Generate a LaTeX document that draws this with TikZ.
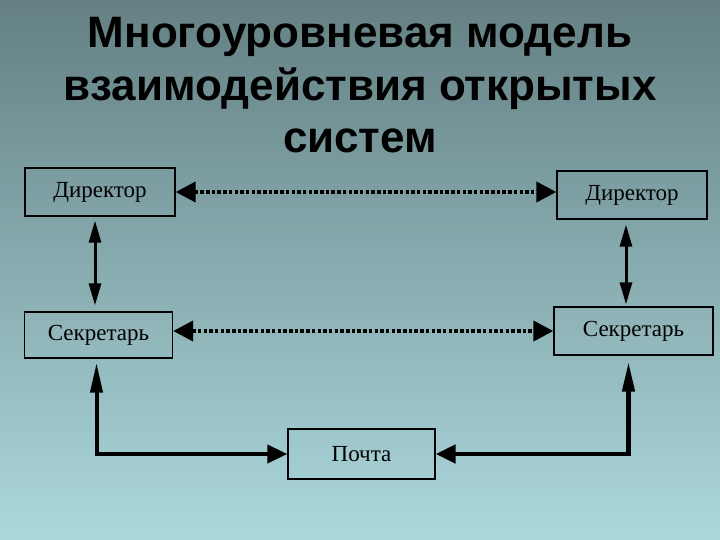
\documentclass[tikz,border=0pt]{standalone}
\usepackage{fontspec}
\setmainfont{Liberation Serif}
\newfontfamily\titlefont{Liberation Sans}
\usepackage{xcolor}
\usetikzlibrary{arrows.meta}

\definecolor{bgtop}{RGB}{100,128,131}
\definecolor{bgbottom}{RGB}{172,216,221}

\begin{document}
\begin{tikzpicture}[x=1pt,y=-1pt,
        unit/.style={draw=black, line width=1.3pt, inner sep=0pt, font=\fontsize{23}{25}\selectfont},
        dotlink/.style={line width=4pt, dash pattern=on 3.5pt off 2.2pt,
            {Triangle[length=20pt,width=20pt]}-{Triangle[length=20pt,width=20pt]}},
        solidlink/.style={line width=3pt,
            {Triangle[length=22pt,width=12pt]}-{Triangle[length=22pt,width=12pt]}},
        postlink/.style={line width=4pt,
            {Triangle[length=30pt,width=12pt]}-{Triangle[length=20pt,width=18pt]}}]
        \shade[top color=bgtop, bottom color=bgbottom] (0,0) rectangle (720,540);
        \useasboundingbox (0,0) rectangle (720,540);
        % title
        \node[font=\titlefont\bfseries\fontsize{44}{52.5}\selectfont, align=center, anchor=north]
            (title) at (360,14) {Многоуровневая модель\\взаимодействия открытых\\систем};
        % boxes
        \node[unit, minimum width=150pt, minimum height=48pt] (dirL) at (100,192) {Директор};
        \node[unit, minimum width=150pt, minimum height=48pt] (dirR) at (632,195) {Директор};
        \node[unit, minimum width=148pt, minimum height=46pt] (secL) at (98.5,335) {Секретарь};
        \node[unit, minimum width=159pt, minimum height=48pt] (secR) at (633.5,331) {Секретарь};
        \node[unit, minimum width=147pt, minimum height=50pt] (post) at (361.5,454) {Почта};
        % links
        \draw[dotlink] (dirL.east) -- (dirL.east -| dirR.west);
        \draw[dotlink] (secR.west -| secL.east) -- (secR.west);
        \draw[solidlink, shorten <=4pt, shorten >=6pt] ([xshift=-5pt]dirL.south) -- ([xshift=-5pt]dirL.south |- secL.north);
        \draw[solidlink, shorten <=5pt, shorten >=2pt] ([xshift=-6pt]dirR.south) -- ([xshift=-6pt]dirR.south |- secR.north);
        \draw[postlink, shorten <=4pt] ([xshift=-2pt]secL.south) |- (post.west);
        \draw[postlink, line width=4.5pt, shorten <=6pt] ([xshift=-5pt]secR.south) |- (post.east);
    \end{tikzpicture}
\end{document}
